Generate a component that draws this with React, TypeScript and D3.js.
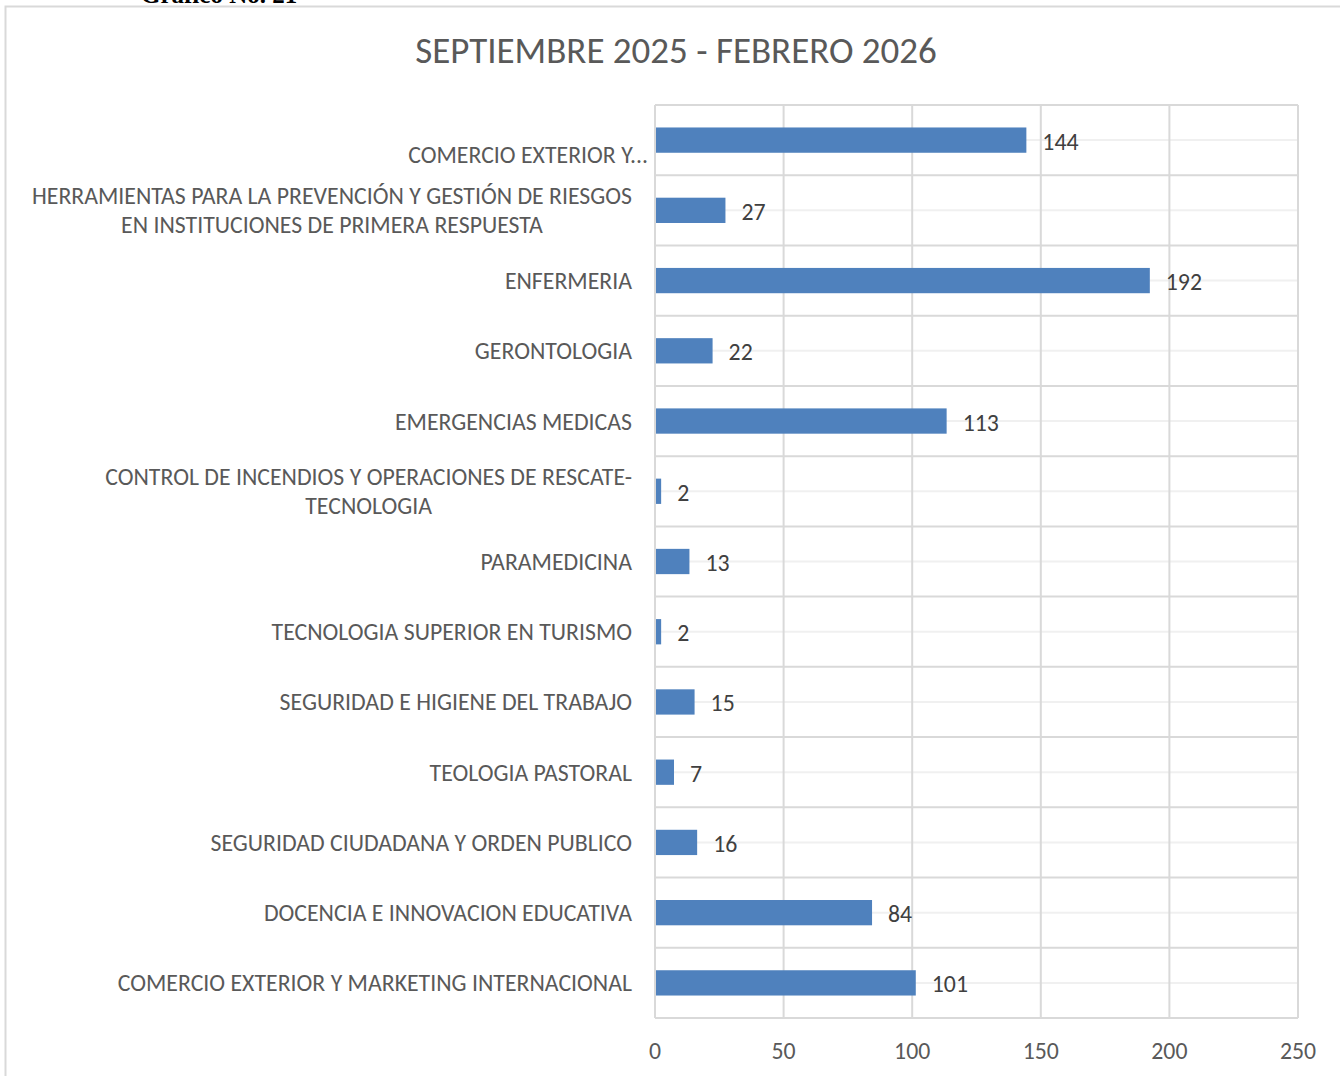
import React from 'react';
import * as d3 from 'd3';

const categories = [
  'COMERCIO EXTERIOR Y MARKETING INTERNACIONAL (2)',
  'HERRAMIENTAS PARA LA PREVENCIÓN Y GESTIÓN DE RIESGOS EN INSTITUCIONES DE PRIMERA RESPUESTA',
  'ENFERMERIA',
  'GERONTOLOGIA',
  'EMERGENCIAS MEDICAS',
  'CONTROL DE INCENDIOS Y OPERACIONES DE RESCATE-TECNOLOGIA',
  'PARAMEDICINA',
  'TECNOLOGIA SUPERIOR EN TURISMO',
  'SEGURIDAD E HIGIENE DEL TRABAJO',
  'TEOLOGIA PASTORAL',
  'SEGURIDAD CIUDADANA Y ORDEN PUBLICO',
  'DOCENCIA E INNOVACION EDUCATIVA',
  'COMERCIO EXTERIOR Y MARKETING INTERNACIONAL',
];

// how each category label is shown on the axis
const labelLines = [
  ['COMERCIO EXTERIOR Y...'],
  ['HERRAMIENTAS PARA LA PREVENCIÓN Y GESTIÓN DE RIESGOS', 'EN INSTITUCIONES DE PRIMERA RESPUESTA'],
  ['ENFERMERIA'],
  ['GERONTOLOGIA'],
  ['EMERGENCIAS MEDICAS'],
  ['CONTROL DE INCENDIOS Y OPERACIONES DE RESCATE-', 'TECNOLOGIA'],
  ['PARAMEDICINA'],
  ['TECNOLOGIA SUPERIOR EN TURISMO'],
  ['SEGURIDAD E HIGIENE DEL TRABAJO'],
  ['TEOLOGIA PASTORAL'],
  ['SEGURIDAD CIUDADANA Y ORDEN PUBLICO'],
  ['DOCENCIA E INNOVACION EDUCATIVA'],
  ['COMERCIO EXTERIOR Y MARKETING INTERNACIONAL'],
];

const values = [144, 27, 192, 22, 113, 2, 13, 2, 15, 7, 16, 84, 101];
const xTicks = [0, 50, 100, 150, 200, 250];

const title = 'SEPTIEMBRE 2025 - FEBRERO 2026';
const font = "Carlito, Calibri, 'Open Sans', sans-serif";
const textColor = '#595959';
const grid = '#d9d9d9';
const fs = 23.8;

const plot = { left: 655, right: 1298, top: 105, bottom: 1018 };

export default function App() {
  const x = d3.scaleLinear().domain([0, 250]).range([plot.left, plot.right]);
  const y = d3.scaleBand<string>().domain(categories).range([plot.top, plot.bottom]).padding(0);
  const barH = y.bandwidth() * 0.36;
  const lineH = 29;

  return (
    <svg width={1340} height={1076} style={{ position: 'absolute', left: 0, top: 0, background: '#fff' }}>
      <text x={141} y={3} fontFamily="'Liberation Serif', serif" fontWeight="bold" fontSize={25} fill="#000">
        Gráfico No. 21
      </text>
      <rect x={5.5} y={6.5} width={1350} height={1090} fill="none" stroke={grid} strokeWidth={2} />
      <text x={676} y={50} textAnchor="middle" dominantBaseline="central" fontFamily={font} fontSize={37} fill={textColor}>
        {title}
      </text>

      {/* faint center lines */}
      {categories.map(c => (
        <line key={'m' + c} x1={plot.left} x2={plot.right} y1={y(c)! + y.bandwidth() / 2} y2={y(c)! + y.bandwidth() / 2}
          stroke="#f0f0f0" strokeWidth={2} />
      ))}
      {/* category boundaries */}
      {d3.range(categories.length + 1).map(i => {
        const yy = plot.top + i * y.step();
        return <line key={'h' + i} x1={plot.left} x2={plot.right} y1={yy} y2={yy} stroke={grid} strokeWidth={2} />;
      })}
      {xTicks.map(t => (
        <line key={'v' + t} x1={x(t)} x2={x(t)} y1={plot.top} y2={plot.bottom} stroke={grid} strokeWidth={2} />
      ))}

      {categories.map((c, i) => (
        <rect key={'b' + c} x={x(0) + 1} y={y(c)! + y.bandwidth() / 2 - barH / 2}
          width={x(values[i]) - x(0)} height={barH} fill="#4f81bd" />
      ))}

      {categories.map((c, i) => (
        <text key={'v' + c} x={x(values[i]) + 17} y={y(c)! + y.bandwidth() / 2 + 1} dominantBaseline="central"
          fontFamily={font} fontSize={fs} fill="#404040">
          {values[i]}
        </text>
      ))}

      {categories.map((c, i) => {
        const lines = labelLines[i];
        const cy = y(c)! + y.bandwidth() / 2;
        if (i === 0) {
          return (
            <text key={'l' + c} x={648} y={cy + 14} textAnchor="end" dominantBaseline="central"
              fontFamily={font} fontSize={fs} fill={textColor}>{lines[0]}</text>
          );
        }
        if (lines.length === 1) {
          return (
            <text key={'l' + c} x={632} y={cy} textAnchor="end" dominantBaseline="central"
              fontFamily={font} fontSize={fs} fill={textColor}>{lines[0]}</text>
          );
        }
        return (
          <g key={'l' + c}>
            {lines.map((ln, j) => (
              <text key={j} x={632} y={cy + (j - (lines.length - 1) / 2) * lineH}
                textAnchor="end" dominantBaseline="central" fontFamily={font} fontSize={fs} fill={textColor}
                ref={el => {
                  if (!el) return;
                  // center the lines of a wrapped label on the widest line
                  const g = el.parentNode as SVGGElement;
                  const texts = Array.from(g.querySelectorAll('text')) as SVGTextElement[];
                  const widths = texts.map(t => t.getComputedTextLength());
                  const maxW = d3.max(widths) || 0;
                  const center = 632 - maxW / 2;
                  texts.forEach(t => {
                    t.setAttribute('text-anchor', 'middle');
                    t.setAttribute('x', String(center));
                  });
                }}>
                {ln}
              </text>
            ))}
          </g>
        );
      })}

      {xTicks.map(t => (
        <text key={'t' + t} x={x(t)} y={1050} textAnchor="middle" dominantBaseline="central"
          fontFamily={font} fontSize={fs} fill={textColor}>
          {t}
        </text>
      ))}
    </svg>
  );
}
